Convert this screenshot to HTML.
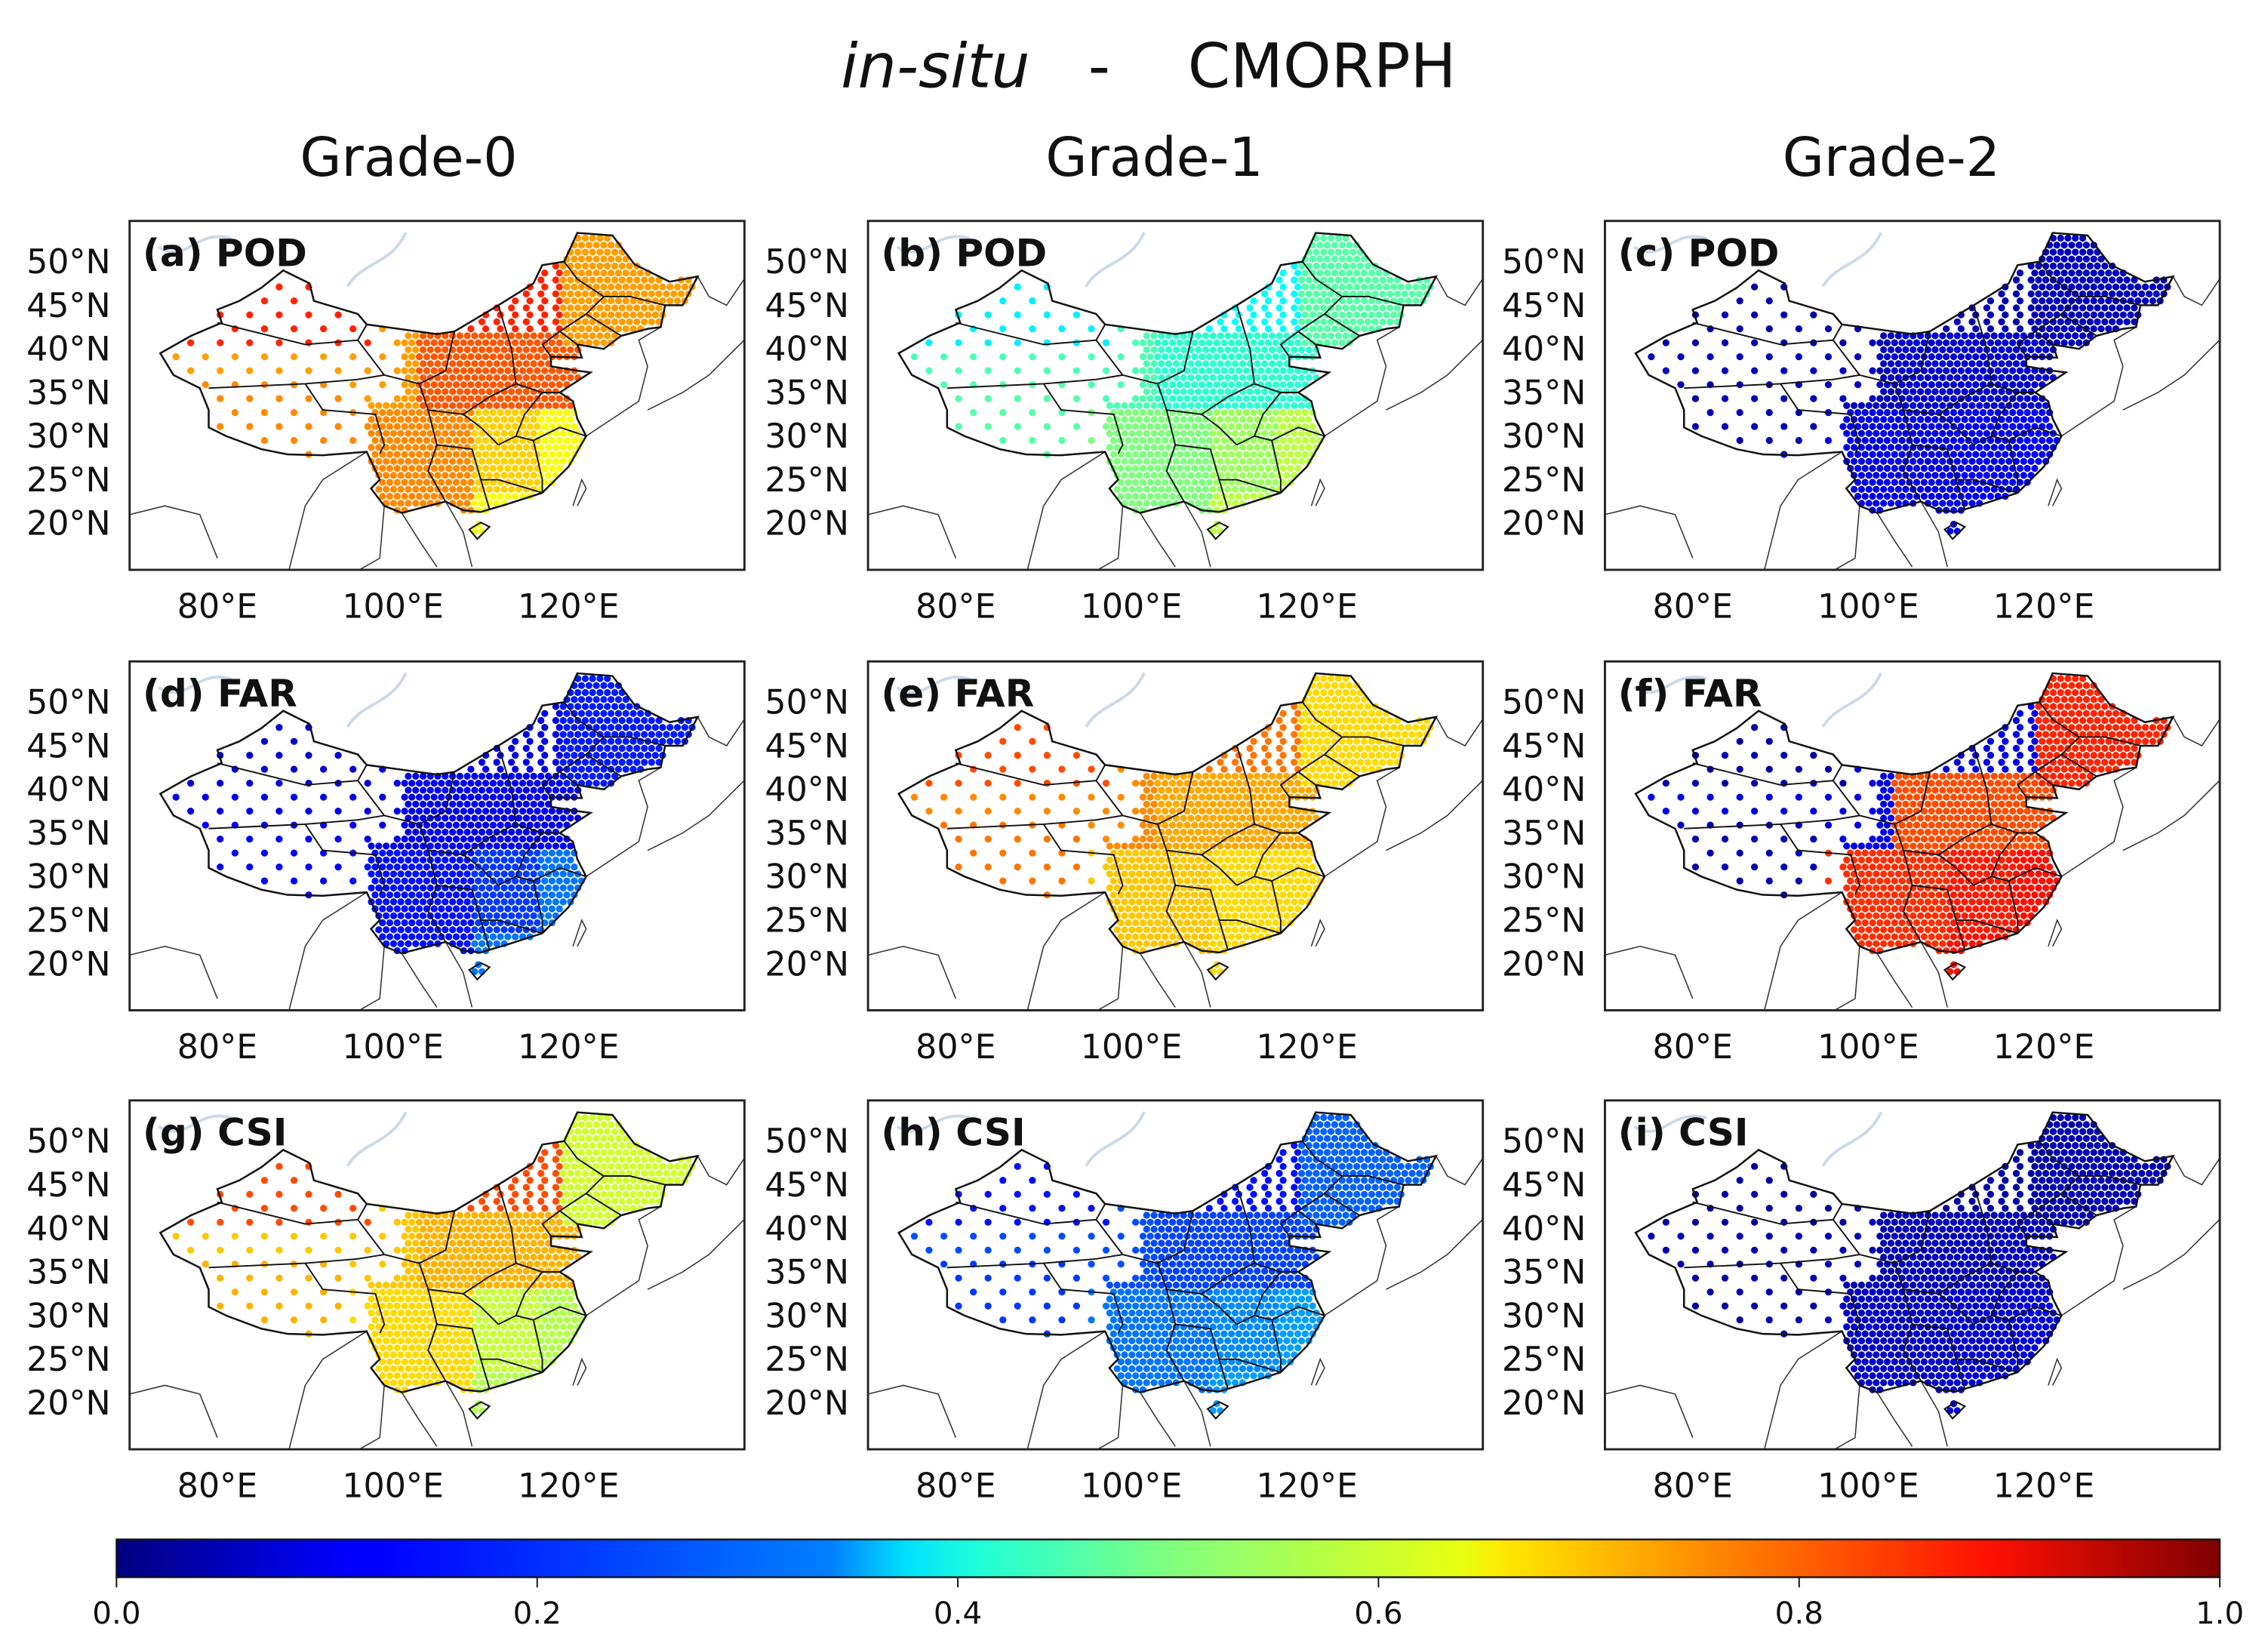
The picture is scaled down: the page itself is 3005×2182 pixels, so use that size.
<!DOCTYPE html>
<html><head><meta charset="utf-8">
<style>
html,body{margin:0;padding:0;background:#fff;}
svg{display:block;}
text{font-family:"DejaVu Sans","Liberation Sans",sans-serif;fill:#111;}
</style></head>
<body>
<svg id="fig" width="3005" height="2182" viewBox="0 0 1560 1133" xmlns="http://www.w3.org/2000/svg">
<defs>
<linearGradient id="jet" x1="0" x2="1" y1="0" y2="0">
<stop offset="0" stop-color="#00007f"/><stop offset="0.11" stop-color="#0000ff"/><stop offset="0.125" stop-color="#0000ff"/>
<stop offset="0.34" stop-color="#0080ff"/><stop offset="0.375" stop-color="#00e0ff"/><stop offset="0.41" stop-color="#20ffd8"/>
<stop offset="0.5" stop-color="#80ff80"/><stop offset="0.64" stop-color="#e8ff10"/><stop offset="0.66" stop-color="#ffe800"/>
<stop offset="0.75" stop-color="#ff9000"/><stop offset="0.89" stop-color="#ff1000"/><stop offset="1" stop-color="#7f0000"/>
</linearGradient>
</defs>
<text x="790" y="60" font-size="42" text-anchor="middle"><tspan font-style="italic">in-situ</tspan>&#160;&#160;&#160;-&#160;&#160;&#160;&#160;CMORPH</text>
<text x="281" y="121" font-size="37" text-anchor="middle">Grade-0</text>
<text x="794" y="121" font-size="37" text-anchor="middle">Grade-1</text>
<text x="1301" y="121" font-size="37" text-anchor="middle">Grade-2</text>
<g id="panels"></g>
<g>
<rect x="80" y="1059" width="1447" height="26" fill="url(#jet)" stroke="#111" stroke-width="1.2"/>
<g id="cbticks"></g>
</g>
</svg>
<script>
// ---- data ----
const panelLabels = ["(a) POD","(b) POD","(c) POD","(d) FAR","(e) FAR","(f) FAR","(g) CSI","(h) CSI","(i) CSI"];
const regionNames = ["xinjiang","tibet","qinghai","north","northeast","southwest","southeast","innermongolia","coast"];
// values per region (order as regionNames) for each panel
const podG0 = [0.84,0.74,0.72,0.79,0.72,0.74,0.67,0.84,0.62];
const podG1 = [0.36,0.46,0.45,0.42,0.46,0.50,0.53,0.38,0.56];
const podG2 = [0.04,0.05,0.06,0.08,0.06,0.10,0.11,0.05,0.12];
const farG0 = [0.08,0.12,0.10,0.11,0.15,0.14,0.18,0.10,0.24];
const farG1 = [0.80,0.76,0.74,0.71,0.66,0.68,0.66,0.76,0.66];
const farG2 = [0.04,0.05,0.10,0.80,0.84,0.83,0.85,0.10,0.86];
const csiG0 = [0.80,0.70,0.68,0.70,0.58,0.66,0.57,0.80,0.55];
const csiG1 = [0.14,0.18,0.20,0.19,0.22,0.24,0.26,0.14,0.28];
const csiG2 = [0.03,0.04,0.05,0.06,0.05,0.07,0.08,0.04,0.09];
const panelValues = [podG0,podG1,podG2,farG0,farG1,farG2,csiG0,csiG1,csiG2];
const latTicks = [50,45,40,35,30,25,20];
const lonTicks = [80,100,120];
const cbTicks = [0,0.2,0.4,0.6,0.8,1.0];

// ---- geometry ----
const colX=[89,597,1104], rowY=[152,455,757], PW=423, PH=240;
const lonX = lon => (lon-70)*6.04;
const latY = lat => 28+(50-lat)*6.0;
const china=[[73.5,39.5],[75,37],[78,35.5],[79,33],[79,31],[81,30],[85,28.5],[88,27.9],[92,27.8],[97,28.2],[98.5,25],[97.5,24],[99,22],[101,21.2],[106,22.5],[108,21.5],[110,21.3],[111,21.6],[113,22.2],[117,23.5],[120,26.5],[122,30],[121,32],[120.5,34],[119,35],[122.5,37.3],[121,37.5],[118,38],[118,39.1],[121.5,39],[121,40.5],[124,40],[126,41.5],[129,42.3],[130.5,42.5],[131,45],[133,45],[134.7,48.3],[131.5,47.7],[127.5,49.7],[125,53],[121,53.3],[119.5,50],[117,49.6],[116,47.5],[112,45],[107,42],[105,41.7],[97,42.8],[96,44],[91,45.5],[90.5,47.5],[87.5,49],[85,47],[82.5,45.5],[80,44.5],[80.5,43],[77,41.5]];
const hainan=[[108.7,19.3],[110,20.1],[111,19.6],[109.6,18.2]];
const provLines=[
 [[80,43],[90,40.5],[96,41],[97,42.8]],
 [[79,35.5],[90,36],[96,36.5],[99,37]],
 [[90,36],[92,33],[98,32.5],[99,29],[98.5,28]],
 [[96,41],[99,37],[103,36],[104,33],[108,32.5],[110,31],[112,29]],
 [[103,36],[106,37.5],[107,42]],
 [[108,32.5],[111,34.5],[114,36],[113.5,40],[112,45]],
 [[114,36],[117,35],[119,35]],
 [[104,33],[105,29],[104,26],[106,22.5]],
 [[105,29],[109,28.5],[110,25],[112,25],[117,23.5]],
 [[112,29],[114,30],[116,29.5],[117,25],[117,23.5]],
 [[110,25],[111,21.6]],
 [[116,29.5],[119,31],[122,30]],
 [[114,30],[115,32.5],[117,35]],
 [[118,39.1],[117,40.5],[119,42],[121,40.5]],
 [[119,42],[122,44],[126,41.5]],
 [[122,44],[124,46],[121,48],[119.5,50]],
 [[124,46],[127,46],[131,45]]
];
const outer=[[[88,14],[90,22],[92,25],[97,28.2]],[[95,14],[98.5,16],[99,22]],[[101,21.2],[103,18],[105,15]],[[106,22.5],[108,19],[109,15]],[[70,21],[74,22],[78,21],[80,16]],[[122,30],[128,34],[129,38],[128,41],[130.5,42.5]],[[129,33],[131,34],[133,35],[136,37],[140,41]],[[120.5,22],[121.5,25],[122,24],[121,22]],[[134.7,48.3],[136,46],[138,45],[140,48]]];

function regionOf(lon,lat){
 if(lat>=40&&lon<98) return 0;
 if(lon<95&&lat<36) return 1;
 if(lon<103&&lat>=33) return 2;
 if(lon>=119&&lat>=40.5) return 4;
 if(lat>=41.5) return 7;
 if(lat>=33.5) return 3;
 if(lon<109) return 5;
 if(lon>=116.5 || lat<23.5) return 8;
 return 6;
}
function inPoly(x,y,p){let c=false;for(let i=0,j=p.length-1;i<p.length;j=i++){const a=p[i],b=p[j];if((a[1]>y)!=(b[1]>y)&&x<(b[0]-a[0])*(y-a[1])/(b[1]-a[1])+a[0])c=!c;}return c;}
// station locations (grid, dense in east, sparse in west)
const stations=[];
for(let lat=18.3;lat<53.5;lat+=0.8){
 let r=Math.round((lat-18.3)/0.8);
 for(let lon=73.6+(r%2)*0.42;lon<135;lon+=0.84){
  const k=Math.round(lon/0.84);
  const east = (lon>=101 && lat<42) || (lon>=97.5 && lat<34) || lon>=110;
  if(!east){ if((k+r)%4!==0 || r%2!==0) continue; }
  else if(lat>=42 && lon<119 && (k+r)%2) continue;
  if(inPoly(lon,lat,china)||inPoly(lon,lat,hainan)) stations.push([lon,lat]);
 }
}
function jet(v){
 v=Math.max(0,Math.min(1,v));
 const r=Math.min(1,Math.max(0,1.5-Math.abs(4*v-3))),g=Math.min(1,Math.max(0,1.5-Math.abs(4*v-2))),b=Math.min(1,Math.max(0,1.5-Math.abs(4*v-1)));
 return `rgb(${Math.round(r*255)},${Math.round(g*255)},${Math.round(b*255)})`;
}
const NS="http://www.w3.org/2000/svg";
function el(t,a,parent){const e=document.createElementNS(NS,t);for(const k in a)e.setAttribute(k,a[k]);parent.appendChild(e);return e;}
const pts=p=>p.map(q=>lonX(q[0]).toFixed(1)+","+latY(q[1]).toFixed(1)).join(" ");
const panels=document.getElementById("panels");
for(let i=0;i<9;i++){
 const c=i%3,r=Math.floor(i/3),x0=colX[c],y0=rowY[r];
 const g=el("g",{transform:`translate(${x0},${y0})`},panels);
 
 
 const clip=el("clipPath",{id:"cp"+i},g);el("rect",{x:0,y:0,width:PW,height:PH},clip);
 const m=el("g",{"clip-path":`url(#cp${i})`},g);
 el("path",{d:"M20,18 C40,30 45,5 70,12 M190,8 C180,30 160,28 150,45",fill:"none",stroke:"#cdd8ea","stroke-width":2},m);
 for(const o of outer) el("polyline",{points:pts(o),fill:"none",stroke:"#333","stroke-width":0.8},m);
 const vals=panelValues[i];
 for(const s of stations){
  const d=el("circle",{cx:lonX(s[0]).toFixed(1),cy:latY(s[1]).toFixed(1),r:2.4,fill:jet(vals[regionOf(s[0],s[1])])},m);
  
  
 }
 el("polygon",{points:pts(china),fill:"none",stroke:"#111","stroke-width":1.3},m);
 el("polygon",{points:pts(hainan),fill:"none",stroke:"#111","stroke-width":1.1},m);
 for(const pl of provLines) el("polyline",{points:pts(pl),fill:"none",stroke:"#111","stroke-width":1},m);
 const fr=el("rect",{x:0,y:0,width:PW,height:PH,fill:"none",stroke:"#222","stroke-width":1.5},g);
 
 
 const lb=el("text",{x:9,y:31,"font-size":26,"font-weight":"bold"},g);lb.textContent=panelLabels[i];
 
 
 for(const la of latTicks){const t=el("text",{x:-13,y:latY(la)+8,"font-size":23,"text-anchor":"end"},g);t.textContent=la+"°N";
  
  }
 for(const lo of lonTicks){const t=el("text",{x:lonX(lo),y:PH+33,"font-size":23,"text-anchor":"middle"},g);t.textContent=lo+"°E";
  
  }
}
const cb=document.getElementById("cbticks");
for(const v of cbTicks){
 const x=80+v*1447;
 el("line",{x1:x,x2:x,y1:1085,y2:1092,stroke:"#111","stroke-width":1},cb);
 const t=el("text",{x:x,y:1117,"font-size":21,"text-anchor":"middle"},cb);t.textContent=v.toFixed(1);
 
 
}
</script>
</body></html>
